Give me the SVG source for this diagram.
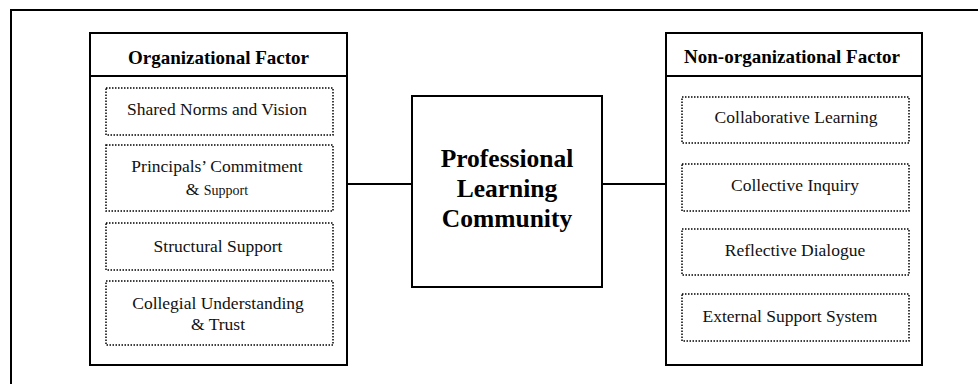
<svg xmlns="http://www.w3.org/2000/svg" width="978" height="384" viewBox="0 0 978 384">
<style>
.frame{fill:none;stroke:#000;stroke-width:2}
.box{fill:#fff;stroke:#000;stroke-width:2}
.dot{fill:none;stroke:#000;stroke-width:1.5;stroke-dasharray:1.5 1.5}
.t{font-family:"Liberation Serif","Times New Roman",serif;font-size:17.5px;fill:#111;text-anchor:middle}
.s{font-size:14px}
.h{font-family:"Liberation Serif","Times New Roman",serif;font-size:19px;font-weight:bold;fill:#000;text-anchor:middle}
.c{font-family:"Liberation Serif","Times New Roman",serif;font-size:25.5px;font-weight:bold;fill:#000;text-anchor:middle}
.ln{stroke:#000;stroke-width:2;fill:none}
</style>
<rect x="0" y="0" width="978" height="384" fill="#fff"/>
<path class="frame" d="M11,390 V10 H990"/>
<g id="connectors">
<line class="ln" x1="347" y1="184" x2="412" y2="184"/>
<line class="ln" x1="602" y1="184" x2="666" y2="184"/>
</g>
<g id="organizational">
<rect class="box" x="90" y="33" width="257" height="332"/>
<line class="ln" x1="90" y1="76" x2="347" y2="76"/>
<text class="h" x="218.5" y="64">Organizational Factor</text>
</g>
<g id="shared-norms">
<rect class="dot" x="106" y="88" width="227" height="47"/>
<text class="t" x="217" y="115">Shared Norms and Vision</text>
</g>
<g id="principals">
<rect class="dot" x="106" y="145" width="227" height="66"/>
<text class="t" x="217" y="172">Principals’ Commitment</text>
<text class="t" x="217" y="195"><tspan>&amp; </tspan><tspan class="s">Support</tspan></text>
</g>
<g id="structural">
<rect class="dot" x="106" y="223" width="227" height="47"/>
<text class="t" x="218" y="252">Structural Support</text>
</g>
<g id="collegial">
<rect class="dot" x="106" y="281" width="227" height="64"/>
<text class="t" x="218" y="309">Collegial Understanding</text>
<text class="t" x="218" y="330">&amp; Trust</text>
</g>
<g id="plc">
<rect class="box" x="412" y="96" width="190" height="191"/>
<text class="c" x="507" y="167">Professional</text>
<text class="c" x="507" y="197">Learning</text>
<text class="c" x="507" y="227">Community</text>
</g>
<g id="non-organizational">
<rect class="box" x="666" y="33" width="256" height="332"/>
<line class="ln" x1="666" y1="76" x2="922" y2="76"/>
<text class="h" x="792" y="63">Non-organizational Factor</text>
</g>
<g id="collaborative">
<rect class="dot" x="682" y="97" width="227" height="46"/>
<text class="t" x="796" y="123">Collaborative Learning</text>
</g>
<g id="collective">
<rect class="dot" x="682" y="164" width="227" height="47"/>
<text class="t" x="795" y="191">Collective Inquiry</text>
</g>
<g id="reflective">
<rect class="dot" x="682" y="229" width="227" height="46"/>
<text class="t" x="795" y="256">Reflective Dialogue</text>
</g>
<g id="external">
<rect class="dot" x="682" y="294" width="227" height="47"/>
<text class="t" x="790" y="322">External Support System</text>
</g>
</svg>
